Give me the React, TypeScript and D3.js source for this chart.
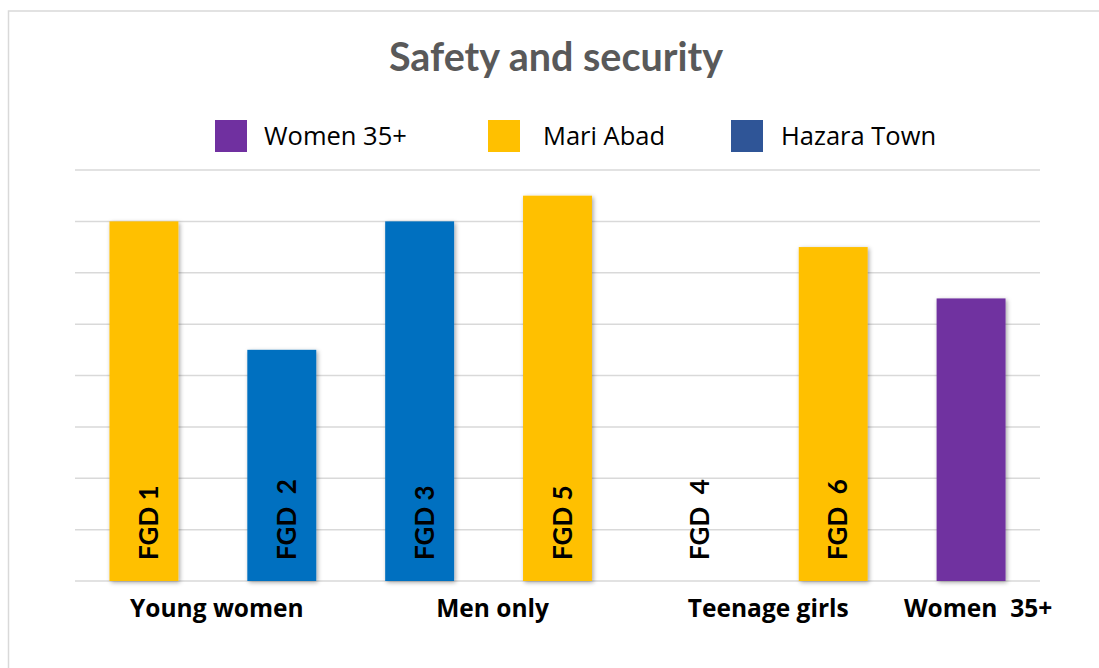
import React from "react";
import * as d3 from "d3";

const W = 1099;
const H = 668;

const title = "Safety and security";
const barLabels = ["FGD 1", "FGD  2", "FGD 3", "FGD 5", "FGD  4", "FGD  6", ""];
const barKeys = ["b1", "b2", "b3", "b4", "b5", "b6", "b7"];
const barValues = [7, 4.5, 7, 7.5, 0, 6.5, 5.5];
const barSeries = ["Mari Abad", "Hazara Town", "Hazara Town", "Mari Abad", "Mari Abad", "Mari Abad", "Women 35+"];
const groupLabels = ["Young women", "Men only", "Teenage girls", "Women  35+"];
const groupMembers = [[0, 1], [2, 3], [4, 5], [6]];
const legendNames = ["Women 35+", "Mari Abad", "Hazara Town"];
const legendColors = ["#7030A0", "#FFC000", "#2F5597"];
const barColors: Record<string, string> = {
  "Women 35+": "#7030A0",
  "Mari Abad": "#FFC000",
  "Hazara Town": "#0070C0",
};
const yTicks = [0, 1, 2, 3, 4, 5, 6, 7, 8];

const FONT = "Lato, 'Open Sans', sans-serif";
const FONT2 = "'Open Sans', Lato, sans-serif";

export default function App() {
  const x = d3.scaleBand<string>().domain(barKeys).range([75, 1040]).paddingInner(0.5).paddingOuter(0.25);
  const y = d3.scaleLinear().domain([0, 8]).range([581, 170]);
  const bw = x.bandwidth();
  const center = (i: number) => (x(barKeys[i]) as number) + bw / 2;

  const legendSwatchX = [215, 488, 731];
  const legendTextX = [264, 543, 781];

  return (
    <svg width={W} height={H} style={{ position: "absolute", left: 0, top: 0, background: "#fff" }} fontFamily={FONT}>
      <defs>
        <filter id="shadow" x="-20%" y="-20%" width="140%" height="140%">
          <feDropShadow dx="1.5" dy="1.5" stdDeviation="2" floodColor="#000" floodOpacity="0.35" />
        </filter>
      </defs>
      <rect x={8.5} y={11} width={1200} height={800} fill="#fff" stroke="#d9d9d9" strokeWidth={1.5} />
      <text x={556} y={71} textAnchor="middle" fontSize={39.5} fontWeight={700} fill="#595959">
        {title}
      </text>
      {legendNames.map((n, i) => (
        <g key={n}>
          <rect x={legendSwatchX[i]} y={120} width={32} height={32} fill={legendColors[i]} />
          <text x={legendTextX[i]} y={145} fontSize={25.5} fontFamily={FONT2} fill="#000">
            {n}
          </text>
        </g>
      ))}
      {yTicks.map((t) => (
        <line key={t} x1={75} x2={1040} y1={y(t)} y2={y(t)} stroke="#d9d9d9" strokeWidth={1.5} />
      ))}
      {barKeys.map((k, i) =>
        barValues[i] > 0 ? (
          <rect
            key={k}
            x={x(k)}
            y={y(barValues[i])}
            width={bw}
            height={y(0) - y(barValues[i])}
            fill={barColors[barSeries[i]]}
            filter="url(#shadow)"
          />
        ) : null
      )}
      {barKeys.map((k, i) =>
        barLabels[i] ? (
          <text
            key={"l" + k}
            transform={`translate(${center(i) + 14},560) rotate(-90)`}
            fontSize={26}
            fontWeight={700}
            fill="#000"
            style={{ whiteSpace: "pre" }}
          >
            {barLabels[i]}
          </text>
        ) : null
      )}
      {groupLabels.map((g, gi) => {
        const cx = d3.mean(groupMembers[gi].map(center)) as number;
        return (
          <text
            key={g}
            x={cx + (gi === 3 ? 7 : 4)}
            y={617}
            textAnchor="middle"
            fontSize={24.5}
            fontFamily={FONT2}
            fontWeight={700}
            fill="#000"
            style={{ whiteSpace: "pre" }}
          >
            {g}
          </text>
        );
      })}
    </svg>
  );
}
